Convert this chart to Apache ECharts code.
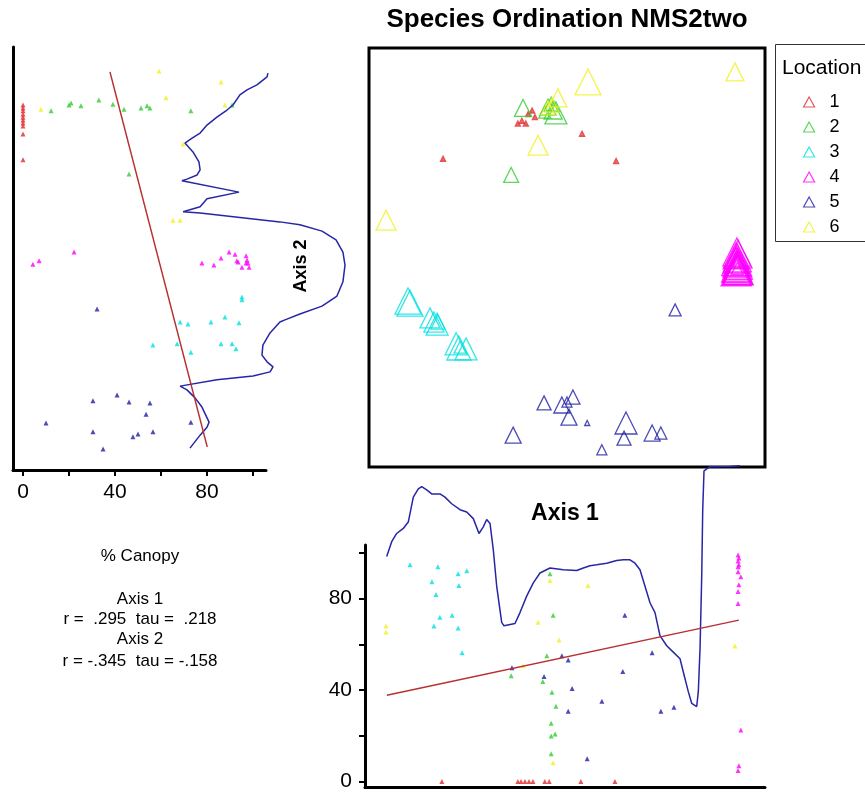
<!DOCTYPE html>
<html>
<head>
<meta charset="utf-8">
<script src="https://cdn.jsdelivr.net/npm/echarts@6/dist/echarts.min.js"></script>
<style>
  html, body { margin: 0; padding: 0; background: #fff; }
  #chart { width: 865px; height: 792px; }
</style>
</head>
<body>
<div id="chart"></div>
<script>
// location groups and their colours
const locations = ['1', '2', '3', '4', '5', '6'];
const colors = ['#e02a2a', '#33cc33', '#00e0e0', '#ff00ff', '#1e1ea0', '#f0f020'];

// ordination scores (axis 1, axis 2, symbol size) per location
const ordScores = [
    [[37.6,81.9,4],[38.6,82.6,4],[39.6,81.9,4],[40.2,84.2,4],[41.2,85.0,4],[41.9,83.5,4],[53.8,79.5,4],[18.7,73.5,4],[62.4,73.0,4]],
    [[38.9,85.7,17],[45.2,85.9,16],[46.0,86.6,14],[46.5,85.2,18],[47.2,84.5,22],[44.4,84.7,12],[46.8,86.0,10],[35.9,69.7,15]],
    [[9.85,39.6,26],[10.35,39.1,26],[15.4,35.6,20],[16.4,34.6,20],[17.2,34.1,22],[17.4,34.6,14],[22.0,29.4,22],[22.7,28.4,24],[24.5,28.2,22],[23.0,28.6,12]],
    [[92.9,51.3,28],[93.2,50.8,28],[92.7,50.4,26],[93.0,49.9,28],[92.8,49.4,26],[93.1,48.9,28],[92.7,48.4,26],[93.0,48.0,28],[92.9,47.5,28],[93.1,47.0,30],
     [92.6,49.0,28],[93.3,48.2,28],[92.8,47.7,30],[93.2,47.2,30],[92.7,46.8,30],[93.0,46.9,28],[92.9,48.6,8],[93.0,47.4,12]],
    [[77.3,37.5,12],[44.2,15.3,14],[48.7,14.8,16],[51.5,16.7,14],[50.0,15.5,10],[50.5,11.9,16],[55.1,10.5,5],[36.4,7.6,16],[64.9,10.5,22],[64.4,6.9,14],[58.8,4.1,10],[71.5,8.1,16],[73.7,8.1,12]],
    [[55.3,91.9,26],[92.4,94.3,18],[47.7,88.1,18],[46.2,86.4,14],[42.7,76.8,20],[4.3,58.9,20],[45.2,85.7,14]]
];

// left panel: % canopy vs axis 2
const canopyAxis2 = [
    [[0,86.4],[0,85.7],[0,85.0],[0,84.2],[0,83.5],[0,82.8],[0,82.1],[0,81.4],[0,79.5],[0,73.3]],
    [[12.2,85.0],[20.0,86.4],[20.9,86.9],[25.2,86.2],[33.0,87.6],[39.1,86.6],[43.9,85.4],[51.3,85.7],[53.9,86.2],[55.2,85.7],[73.0,85.0],[90.9,86.4],[46.1,69.9]],
    [[95.2,40.6],[95.2,39.9],[68.3,34.6],[71.7,34.1],[81.7,34.6],[87.8,35.8],[93.9,34.4],[56.5,29.1],[67.0,29.4],[73.0,27.4],[86.1,29.4],[90.9,29.4],[92.6,28.2]],
    [[4.3,48.4],[7.0,49.2],[22.2,51.3],[77.8,48.7],[83.0,48.2],[86.1,49.9],[89.6,51.3],[92.2,50.8],[93.0,49.2],[93.5,48.9],[95.2,47.7],[97.0,50.4],[97.4,49.4],[97.8,48.7],[98.3,47.7],[97.0,48.7]],
    [[32.2,37.7],[40.9,17.2],[30.4,15.8],[46.1,15.5],[55.2,15.3],[53.5,12.6],[10.0,10.5],[73.0,10.7],[30.4,8.4],[50.0,7.9],[47.8,7.2],[56.5,8.4],[34.8,4.3]],
    [[59.1,94.5],[86.1,91.9],[62.2,88.1],[7.8,85.4],[87.8,86.4],[69.6,77.1],[65.2,58.9],[68.3,58.9]]
];

// bottom panel: axis 1 vs % canopy
const axis1Canopy = [
    [[18.4,0],[37.6,0],[38.4,0],[39.4,0],[40.4,0],[41.4,0],[44.4,0],[45.5,0],[53.5,0],[62.1,0]],
    [[45.7,90.9],[46.5,72.7],[44.9,55.0],[35.9,46.3],[43.9,43.7],[46.2,39.0],[47.2,32.9],[46.0,25.5],[46.0,19.9],[47.0,20.8],[46.0,12.1]],
    [[10.35,94.8],[17.4,93.9],[22.5,90.9],[24.7,92.2],[15.9,87.4],[22.7,85.7],[16.9,81.8],[21.0,72.7],[17.9,71.9],[16.4,68.0],[22.5,67.1],[23.5,56.3]],
    [[93.2,99.1],[93.4,97.8],[93.2,96.5],[93.4,94.8],[93.2,93.9],[93.2,91.8],[93.9,89.6],[93.4,86.1],[93.2,83.1],[93.2,77.9],[93.9,22.5],[93.4,6.9],[93.2,4.8]],
    [[36.1,49.8],[44.2,45.9],[48.7,55.0],[50.3,53.2],[51.3,40.7],[50.3,30.7],[55.1,10.0],[58.8,35.1],[64.1,48.1],[64.6,72.7],[71.5,56.3],[73.7,30.7],[77.0,32.5]],
    [[4.3,68.0],[4.3,65.4],[45.7,87.9],[42.7,69.7],[48.0,61.9],[55.3,85.7],[46.5,8.2],[92.4,59.3],[38.9,50.6]]
];

// smoothed canopy profiles and fitted lines
const curveAxis2 = [[106.5,94.0],[106.1,93.1],[101.7,91.2],[97.4,90.0],[94.3,88.8],[91.3,86.4],[88.7,85.2],[84.3,83.5],[80.0,81.6],[77.0,79.7],[73.5,78.5],[70.4,77.3],[73.9,75.2],[76.5,72.8],[77.0,70.9],[75.7,69.7],[71.3,68.7],[69.1,68.3],[93.9,65.6],[80.0,64.0],[77.0,62.1],[69.6,60.9],[77.0,60.6],[111.7,58.5],[120.4,57.8],[130.0,56.3],[136.1,54.2],[139.1,51.3],[140.0,48.2],[139.1,44.2],[136.5,40.8],[130.0,38.4],[120.4,36.5],[113.9,35.1],[111.7,34.6],[107.4,32.0],[104.3,29.1],[103.9,26.7],[106.1,25.1],[108.7,23.9],[107.4,22.7],[100.0,21.7],[84.3,20.8],[68.3,19.3],[71.3,18.4],[74.8,16.5],[77.8,14.3],[80.9,10.7],[80.0,9.5],[77.0,7.6],[72.6,4.5]];
const curveAxis1 = [[4.47,98.4],[5.73,104.9],[6.99,108.5],[8.66,110.7],[9.92,113.5],[11.19,124.4],[12.45,128.0],[13.31,129.0],[14.57,127.6],[15.83,125.8],[17.93,125.8],[19.19,124.4],[20.88,121.5],[22.98,118.9],[24.67,117.9],[26.34,115.0],[27.78,108.5],[28.86,111.4],[29.72,114.6],[30.56,112.9],[31.39,101.3],[32.25,85.4],[33.51,69.6],[34.09,68.1],[36.87,69.1],[38.13,73.9],[39.82,81.1],[41.49,86.9],[43.18,91.2],[45.71,93.4],[49.07,92.6],[52.45,92.3],[54.12,93.4],[55.81,94.4],[57.5,94.8],[60.03,95.5],[62.55,96.7],[64.22,97.0],[65.91,97.0],[67.17,95.5],[68.43,92.6],[69.7,85.4],[70.96,78.2],[72.22,73.9],[73.48,63.8],[75.18,59.4],[76.84,56.6],[78.54,53.7],[79.37,47.9],[80.63,39.3],[81.49,34.2],[82.75,32.8],[83.16,39.3],[83.59,58.0],[84.02,89.7],[84.27,118.6],[84.6,135.9],[86.11,137.7],[91.16,137.8],[93.69,138.1]];
const fitAxis2 = [[37.8,94.3],[80.1,4.8]];
const fitAxis1 = [[4.5,37.7],[93.4,70.6]];

const canopyTicks = [0, 20, 40, 60, 80, 100];
const canopyLabels = [0, 40, 80];

const font = 'Liberation Sans, Arial, sans-serif';
const chart = echarts.init(document.getElementById('chart'));

const hidden = { show: false, splitLine: { show: false } };
const plainAxisLine = { show: true, onZero: false, lineStyle: { color: '#000', width: 3 } };

const series = [];
locations.forEach((name, i) => {
    series.push({
        name: name, type: 'scatter', xAxisIndex: 0, yAxisIndex: 0,
        symbol: 'triangle', symbolSize: v => v[2],
        itemStyle: { color: 'transparent', borderColor: colors[i], borderWidth: i === 0 ? 2 : 1.3 },
        data: ordScores[i]
    });
});
locations.forEach((name, i) => {
    series.push({
        name: name, type: 'scatter', xAxisIndex: 1, yAxisIndex: 1,
        symbol: 'triangle', symbolSize: 5,
        itemStyle: { color: colors[i] },
        data: canopyAxis2[i]
    });
    series.push({
        name: name, type: 'scatter', xAxisIndex: 2, yAxisIndex: 2,
        symbol: 'triangle', symbolSize: 5,
        itemStyle: { color: colors[i] },
        data: axis1Canopy[i]
    });
});
series.push(
    // left profile lives on a wider hidden grid with the same scale, so it can run past the axis
    { type: 'line', xAxisIndex: 3, yAxisIndex: 3, data: curveAxis2, showSymbol: false,
      lineStyle: { color: '#2626a6', width: 1.5 } },
    { type: 'line', xAxisIndex: 2, yAxisIndex: 2, data: curveAxis1, showSymbol: false, clip: false,
      lineStyle: { color: '#2626a6', width: 1.5 } },
    { type: 'line', xAxisIndex: 1, yAxisIndex: 1, data: fitAxis2, showSymbol: false,
      lineStyle: { color: '#b83030', width: 1.5 } },
    { type: 'line', xAxisIndex: 2, yAxisIndex: 2, data: fitAxis1, showSymbol: false,
      lineStyle: { color: '#b83030', width: 1.5 } }
);

const statText = (text, y, size) => ({
    type: 'text', x: 140, y: y,
    style: { text: text, font: size + 'px ' + font, fill: '#000', textAlign: 'center', textVerticalAlign: 'middle' }
});

chart.setOption({
    animation: false,
    title: {
        text: 'Species Ordination NMS2two', left: 567, top: 7, textAlign: 'center', padding: 0,
        textStyle: { fontFamily: font, fontSize: 26, fontWeight: 'bold', color: '#000' }
    },
    legend: {
        data: locations, orient: 'vertical', left: 798, top: 88, icon: 'triangle',
        itemWidth: 11, itemHeight: 10, itemGap: 7, selectedMode: false,
        itemStyle: { color: 'transparent', borderWidth: 1.2 },
        textStyle: { fontFamily: font, fontSize: 18, color: '#000', padding: [0, 0, 0, 10] }
    },
    grid: [
        { left: 369, right: 100, top: 48, bottom: 325, show: true, borderColor: '#000', borderWidth: 3 },
        { left: 13, width: 253, top: 47, height: 423 },
        { left: 365, right: 100, top: 545, bottom: 2 },
        { left: 13, width: 347, top: 47, height: 423 }
    ],
    xAxis: [
        { type: 'value', gridIndex: 0, min: 0, max: 100, ...hidden },
        { type: 'value', gridIndex: 1, min: -4.35, max: 105.65, splitLine: { show: false },
          axisLine: plainAxisLine,
          axisTick: { show: true, customValues: canopyTicks, length: 6, lineStyle: { color: '#000', width: 2 } },
          axisLabel: { customValues: canopyLabels, fontFamily: font, fontSize: 21, color: '#000', margin: 12 } },
        { type: 'value', gridIndex: 2, min: -1.01, max: 100, splitLine: { show: false },
          axisLine: plainAxisLine, axisTick: { show: false }, axisLabel: { show: false } },
        { type: 'value', gridIndex: 3, min: -4.35, max: 146.52, ...hidden }
    ],
    yAxis: [
        { type: 'value', gridIndex: 0, min: 0, max: 100, ...hidden },
        { type: 'value', gridIndex: 1, min: -0.72, max: 100.24, splitLine: { show: false },
          axisLine: plainAxisLine, axisTick: { show: false }, axisLabel: { show: false } },
        { type: 'value', gridIndex: 2, min: -2.6, max: 103.46, splitLine: { show: false },
          axisLine: plainAxisLine,
          axisTick: { show: true, customValues: canopyTicks, length: 6, lineStyle: { color: '#000', width: 2 } },
          axisLabel: { customValues: canopyLabels, fontFamily: font, fontSize: 21, color: '#000', margin: 13 } },
        { type: 'value', gridIndex: 3, min: -0.72, max: 100.24, ...hidden }
    ],
    graphic: [
        { type: 'rect', shape: { x: 775.5, y: 44.5, width: 95, height: 197 },
          style: { fill: 'none', stroke: '#333', lineWidth: 1 } },
        { type: 'text', x: 782, y: 68,
          style: { text: 'Location', font: '21px ' + font, fill: '#000', textVerticalAlign: 'middle' } },
        { type: 'text', x: 301, y: 266, rotation: Math.PI / 2,
          style: { text: 'Axis 2', font: 'bold 18px ' + font, fill: '#000', textAlign: 'center', textVerticalAlign: 'middle' } },
        { type: 'text', x: 565, y: 514,
          style: { text: 'Axis 1', font: 'bold 23px ' + font, fill: '#000', textAlign: 'center', textVerticalAlign: 'middle' } },
        statText('% Canopy', 556, 17),
        statText('Axis 1', 599, 17),
        statText('r =  .295  tau =  .218', 619, 17),
        statText('Axis 2', 639, 17),
        statText('r = -.345  tau = -.158', 661, 17)
    ],
    series: series
});
</script>
</body>
</html>
